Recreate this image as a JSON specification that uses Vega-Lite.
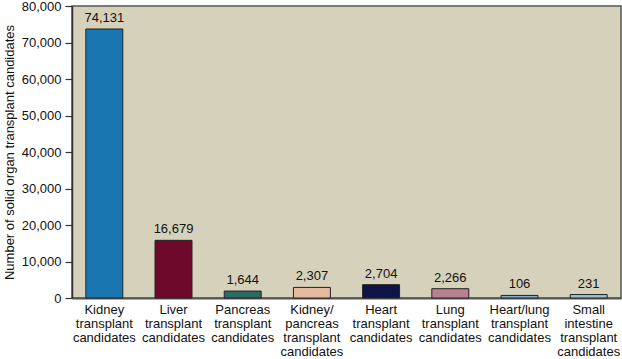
{
  "$schema": "https://vega.github.io/schema/vega-lite/v6.json",
  "width": 549,
  "height": 292,
  "autosize": {"type": "none"},
  "padding": {"left": 72, "top": 6, "right": 1, "bottom": 61},
  "background": "white",
  "config": {
    "view": {"fill": "#d6d1bb", "stroke": "#555555", "strokeWidth": 1.5},
    "font": "Liberation Sans",
    "axis": {"labelFont": "Liberation Sans", "titleFont": "Liberation Sans", "labelColor": "#111111", "titleColor": "#111111"}
  },
  "data": {
    "values": [
      {"organ": "Kidney|transplant|candidates", "drawn": 73700, "candidates": 74131, "color": "#1a76b1"},
      {"organ": "Liver|transplant|candidates", "drawn": 15800, "candidates": 16679, "color": "#6d0a2b"},
      {"organ": "Pancreas|transplant|candidates", "drawn": 1900, "candidates": 1644, "color": "#2c6a64"},
      {"organ": "Kidney/|pancreas|transplant|candidates", "drawn": 2900, "candidates": 2307, "color": "#e6b8a0"},
      {"organ": "Heart|transplant|candidates", "drawn": 3650, "candidates": 2704, "color": "#0f1446"},
      {"organ": "Lung|transplant|candidates", "drawn": 2550, "candidates": 2266, "color": "#b9808f"},
      {"organ": "Heart/lung|transplant|candidates", "drawn": 700, "candidates": 106, "color": "#7fb0d0"},
      {"organ": "Small|intestine|transplant|candidates", "drawn": 950, "candidates": 231, "color": "#9cc0cc"}
    ]
  },
  "encoding": {
    "x": {
      "field": "organ",
      "type": "nominal",
      "sort": null,
      "scale": {"paddingInner": 0.466, "paddingOuter": 0.2},
      "axis": {
        "title": null,
        "labelAngle": 0,
        "ticks": false,
        "labelExpr": "split(datum.value, '|')",
        "labelFontSize": 13,
        "labelLineHeight": 14,
        "labelPadding": 5,
        "labelBaseline": "top",
        "labelOverlap": false,
        "domainColor": "#555555",
        "domainWidth": 2
      }
    },
    "y": {
      "field": "drawn",
      "type": "quantitative",
      "scale": {"domain": [0, 80000], "nice": false},
      "axis": {
        "title": "Number of solid organ transplant candidates",
        "titleFontSize": 13,
        "titleFontWeight": "normal",
        "titlePadding": 5,
        "values": [0, 10000, 20000, 30000, 40000, 50000, 60000, 70000, 80000],
        "labelExpr": "format(datum.value, ',')",
        "labelOverlap": false,
        "labelFontSize": 13,
        "tickSize": 7,
        "tickColor": "#333333",
        "tickWidth": 1.2,
        "domainColor": "#333333",
        "domainWidth": 1.5,
        "grid": false,
        "labelPadding": 4
      }
    }
  },
  "layer": [
    {
      "mark": {"type": "bar", "stroke": "#222222", "strokeWidth": 1},
      "encoding": {"color": {"field": "color", "type": "nominal", "scale": null}}
    },
    {
      "mark": {"type": "text", "baseline": "bottom", "dy": -4, "fontSize": 13, "color": "#111111"},
      "encoding": {"text": {"field": "candidates", "type": "quantitative", "format": ","}}
    }
  ]
}
